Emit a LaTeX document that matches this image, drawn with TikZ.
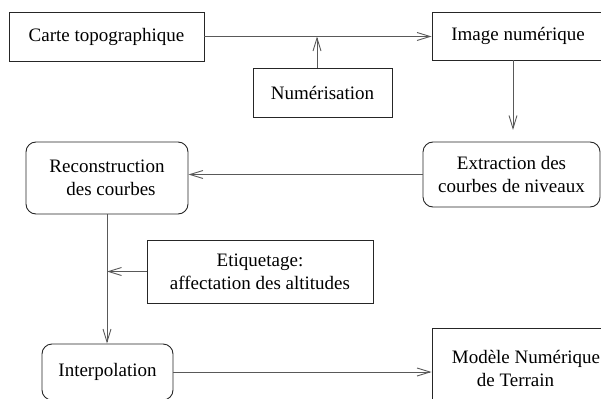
\documentclass[tikz,border=0pt]{standalone}
\usepackage{fontspec}
\setmainfont{Liberation Serif}
\usetikzlibrary{arrows.meta}
\begin{document}
\begin{tikzpicture}[x=1pt,y=-1pt,
  every node/.style={font=\fontsize{19}{23}\selectfont, inner sep=0pt, align=center},
  sqbox/.style={draw=black!85, line width=0.9pt},
  rdbox/.style={draw=black!85, line width=0.9pt, rounded corners=10pt},
  conn/.style={draw=black!65, line width=0.9pt, -{Straight Barb[length=13pt,width=8pt,line width=0.9pt]}},
  plain/.style={draw=black!65, line width=0.9pt}]
\useasboundingbox (0,0) rectangle (601,398);
\clip (0,0) rectangle (601,398);
\node[sqbox, minimum width=195pt, minimum height=49pt] (carte) at (106.5,36.5) {Carte topographique};
\node[sqbox, minimum width=172pt, minimum height=48pt] (image) at (518,36) {Image numérique};
\node[sqbox, minimum width=139pt, minimum height=49pt] (numer) at (322.5,92.5) {Numérisation};
\node[rdbox, minimum width=177pt, minimum height=65pt] (extr) at (511.5,174.5) {Extraction des\\courbes de niveaux};
\node[rdbox, minimum width=162pt, minimum height=72pt] (recon) at (107,178) {Reconstruction\\\hspace*{8pt}des courbes};
\node[sqbox, minimum width=226pt, minimum height=63pt] (etiq) at (260,271.5) {Etiquetage:\\affectation des altitudes};
\node[rdbox, minimum width=131pt, minimum height=56pt] (interp) at (107.5,372) {Interpolation};
\node[sqbox, minimum width=188pt, minimum height=80pt, align=left] (modele) at (526,368) {Modèle Numérique\\\hspace*{25pt}de Terrain};
\coordinate (dn) at (513,130);
\draw[conn] (carte.east) -- (carte.east -| image.west);
\draw[conn] ([xshift=-5.5pt]numer.north) -- ([xshift=-5.5pt]numer.north |- carte.east);
\draw[conn] (image.south -| dn) -- (dn);
\draw[conn] (extr.west) -- (extr.west -| recon.east);
\draw[conn] (recon.south) -- (recon.south |- interp.north);
\draw[conn] (etiq.west) -- (etiq.west -| recon.south);
\draw[conn] (interp.east) -- (interp.east -| modele.west);
\end{tikzpicture}
\end{document}
